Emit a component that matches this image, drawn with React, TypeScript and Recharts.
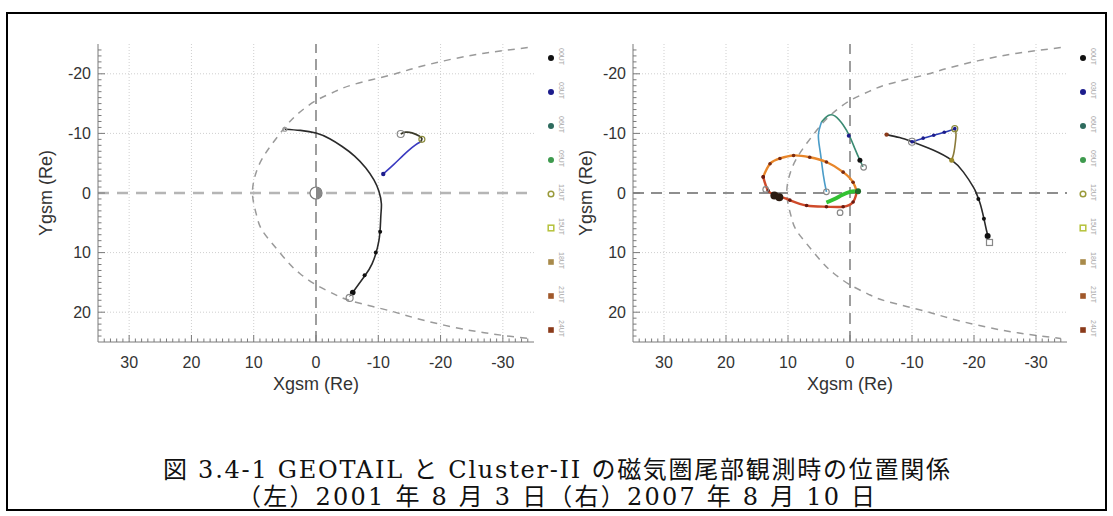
import React from "react";
import { ComposedChart, Scatter, XAxis, YAxis, ReferenceLine } from "recharts";

// axis ticks (Re)
const xMajor = [30, 20, 10, 0, -10, -20, -30];
const yMajor = [-20, -10, 0, 10, 20];
const xGrid = [-30, -20, -10, 10, 20, 30];
const yGrid = [-20, -10, 10, 20];
const xMinor = Array.from({ length: 69 }, (_, i) => i - 34);
const yMinor = Array.from({ length: 49 }, (_, i) => i - 24);

// model boundary (dashed), same in both panels
const bowX = [-34, -28, -22, -16, -12, -6, -3, 0, 3, 5, 7, 8.5, 9.6, 10.2, 9.6, 8.8, 7, 4.6, 2.6, 0, -3, -6, -12, -16, -22, -28, -34];
const bowY = [-24.4, -23.6, -22.5, -21.0, -19.8, -18.2, -17.0, -15.5, -13.2, -11, -8.3, -6, -3.5, 0, 3.5, 6, 8.5, 11.5, 13.5, 15.4, 17.0, 18.2, 19.8, 21.0, 22.5, 23.6, 24.4];

// left panel: 2001-08-03
const arcX = [5.0, 2.5, 0.0, -2.2, -4.2, -6.2, -8.0, -9.3, -10.1, -10.5, -10.4, -10.1, -9.0, -7.7, -5.9, -5.5];
const arcY = [-10.7, -10.5, -10.05, -9.1, -7.8, -6.2, -4.2, -2.2, -0.3, 1.8, 4.0, 8.0, 11.9, 14.1, 16.7, 17.3];
const arcDotX = [-10.3, -9.6, -7.8];
const arcDotY = [6.5, 10, 13.8];
const blueX = [-10.8, -12.5, -14.0, -15.4, -16.3, -16.8];
const blueY = [-3.2, -4.8, -6.3, -7.6, -8.3, -8.6];
const hookX = [-16.8, -17.0, -16.5, -15.4, -14.4, -13.6];
const hookY = [-8.6, -9.1, -9.6, -10.1, -10.2, -9.9];

// right panel: 2007-08-10
const loopUpX = [3.8, 4.3, 4.8, 5.1, 4.6];
const loopUpY = [-0.2, -3.0, -6.9, -9.7, -11.9];
const loopDownX = [4.6, 3.5, 2.4, 1.1, 0.0, -0.8, -1.6, -2.1];
const loopDownY = [-11.9, -13.0, -12.9, -11.4, -9.4, -7.4, -5.5, -4.4];
const ovalTopX = [14.0, 12.9, 11.3, 9.1, 6.5, 3.8, 1.1, -0.5, -1.1];
const ovalTopY = [-2.7, -4.9, -5.8, -6.3, -6.0, -5.2, -3.5, -1.8, -0.2];
const ovalBotX = [-1.1, -0.5, 1.1, 3.8, 7.0, 9.7, 11.8, 13.2, 14.0];
const ovalBotY = [-0.2, 1.5, 2.3, 2.3, 2.1, 1.2, 0.4, -0.4, -2.7];
const greenX = [3.8, 2.5, 1.2, 0.0, -0.8];
const greenY = [1.6, 1.0, 0.3, -0.2, -0.3];
const gtX = [-5.9, -8.0, -10.0, -13.4, -16.4, -18.3, -19.9, -20.4, -21.0, -21.6, -22.0, -22.3];
const gtY = [-9.8, -9.3, -8.6, -7.2, -5.5, -3.5, -1.0, 0.1, 1.8, 4.3, 6.2, 7.4];
const triBlueX = [-10.0, -11.8, -13.5, -15.2, -16.9];
const triBlueY = [-8.6, -9.2, -9.7, -10.2, -10.8];
const triOliveX = [-16.9, -17.1, -16.9, -16.7, -16.4];
const triOliveY = [-10.8, -9.8, -7.7, -6.5, -5.5];

// legend (time colour code)
const legendLabels = ["00UT", "03UT", "06UT", "09UT", "12UT", "15UT", "18UT", "21UT", "24UT"];
const legendColors = ["#111111", "#1c1c8c", "#2e6b5e", "#3e9a4e", "#9a9a3a", "#b5c23a", "#a88a4a", "#a0582a", "#8a3a1a"];
const legendShapes = ["dot", "dot", "dot", "dot", "ring", "box", "sq", "sq", "sq"];

const FRAME = "#7a7a7a";
const TXT = "#333";
const AXFONT = "'Liberation Sans', Arial, sans-serif";
const CAPFONT = "'DejaVu Serif', 'Noto Sans CJK JP', serif";

type Pt = { x: number; y: number };
const pts = (xs: number[], ys: number[]): Pt[] => xs.map((x, i) => ({ x, y: ys[i] }));

type Trace = { data: Pt[]; color: string; width?: number; dash?: string };
type Mark = { data: Pt[]; color: string; r: number; open?: boolean; square?: boolean };

const noDot = () => <g />;

const markShape = (m: Mark) => (p: any) => {
  if (m.square) {
    return <rect x={p.cx - m.r} y={p.cy - m.r} width={m.r * 2} height={m.r * 2} fill="none" stroke={m.color} strokeWidth={1.2} />;
  }
  return (
    <circle cx={p.cx} cy={p.cy} r={m.r} fill={m.open ? "none" : m.color} stroke={m.open ? m.color : "none"} strokeWidth={1.2} />
  );
};

const earth = (p: any) => (
  <g>
    <circle cx={p.cx} cy={p.cy} r={6} fill="#fff" stroke="#777" strokeWidth={1.2} />
    <path d={`M ${p.cx} ${p.cy - 6} A 6 6 0 0 1 ${p.cx} ${p.cy + 6} Z`} fill="#888" />
  </g>
);

function XTick(p: any) {
  const v = p.payload.value as number;
  const major = v % 10 === 0;
  const dir = p.side === "bottom" ? -1 : 1;
  return (
    <g>
      <line x1={p.x} x2={p.x} y1={p.y} y2={p.y + dir * (major ? 7 : 3.5)} stroke={FRAME} />
      {p.side === "bottom" && major && xMajor.includes(v) ? (
        <text x={p.x} y={p.y + 20} textAnchor="middle" dominantBaseline="central" fontSize={16} fill={TXT} fontFamily={AXFONT}>
          {v}
        </text>
      ) : null}
    </g>
  );
}

function YTick(p: any) {
  const v = p.payload.value as number;
  const major = v % 10 === 0;
  const dir = p.side === "left" ? 1 : -1;
  return (
    <g>
      <line x1={p.x} x2={p.x + dir * (major ? 7 : 3.5)} y1={p.y} y2={p.y} stroke={FRAME} />
      {p.side === "left" && major && yMajor.includes(v) ? (
        <text x={p.x - 7} y={p.y} textAnchor="end" dominantBaseline="central" fontSize={16} fill={TXT} fontFamily={AXFONT}>
          {v}
        </text>
      ) : null}
    </g>
  );
}

type PanelProps = {
  width: number;
  margin: { top: number; right: number; bottom: number; left: number };
  yAxisWidth: number;
  traces: Trace[];
  marks: Mark[];
  zeroH: { stroke: string; width: number; dash: string };
  zeroV: { stroke: string; width: number; dash: string };
  showEarth?: boolean;
};

const Panel = ({ width, margin, yAxisWidth, traces, marks, zeroH, zeroV, showEarth }: PanelProps) => (
  <ComposedChart width={width} height={400} margin={margin}>
    <XAxis
      xAxisId="b"
      type="number"
      dataKey="x"
      domain={[-35, 35]}
      reversed
      allowDataOverflow
      ticks={xMinor}
      interval={0}
      tickLine={false}
      tickSize={0}
      tickMargin={0}
      height={58}
      axisLine={{ stroke: FRAME }}
      tick={(p: any) => <XTick {...p} side="bottom" />}
    />
    <XAxis
      xAxisId="t"
      orientation="top"
      type="number"
      dataKey="x"
      domain={[-35, 35]}
      reversed
      allowDataOverflow
      ticks={xMinor}
      interval={0}
      tickLine={false}
      tickSize={0}
      tickMargin={0}
      height={0}
      axisLine={{ stroke: FRAME }}
      tick={(p: any) => <XTick {...p} side="top" />}
    />
    <YAxis
      yAxisId="l"
      type="number"
      dataKey="y"
      domain={[-25, 25]}
      reversed
      allowDataOverflow
      ticks={yMinor}
      interval={0}
      tickLine={false}
      tickSize={0}
      tickMargin={0}
      width={yAxisWidth}
      axisLine={{ stroke: FRAME }}
      tick={(p: any) => <YTick {...p} side="left" />}
    />
    <YAxis
      yAxisId="r"
      orientation="right"
      type="number"
      dataKey="y"
      domain={[-25, 25]}
      reversed
      allowDataOverflow
      ticks={yMinor}
      interval={0}
      tickLine={false}
      tickSize={0}
      tickMargin={0}
      width={0}
      axisLine={{ stroke: FRAME }}
      tick={(p: any) => <YTick {...p} side="right" />}
    />

    {xGrid.map((v) => (
      <ReferenceLine key={`gx${v}`} xAxisId="b" yAxisId="l" x={v} stroke="#cfcfcf" strokeDasharray="1 2" />
    ))}
    {yGrid.map((v) => (
      <ReferenceLine key={`gy${v}`} xAxisId="b" yAxisId="l" y={v} stroke="#cfcfcf" strokeDasharray="1 2" />
    ))}
    <ReferenceLine xAxisId="b" yAxisId="l" y={0} stroke={zeroH.stroke} strokeWidth={zeroH.width} strokeDasharray={zeroH.dash} />
    <ReferenceLine xAxisId="b" yAxisId="l" x={0} stroke={zeroV.stroke} strokeWidth={zeroV.width} strokeDasharray={zeroV.dash} />

    <Scatter
      xAxisId="b"
      yAxisId="l"
      data={pts(bowX, bowY)}
      line={{ stroke: "#9a9a9a", strokeWidth: 1.5, strokeDasharray: "7 6" }}
      lineJointType="natural"
      shape={noDot}
      isAnimationActive={false}
    />
    {traces.map((t, i) => (
      <Scatter
        key={`t${i}`}
        xAxisId="b"
        yAxisId="l"
        data={t.data}
        line={{ stroke: t.color, strokeWidth: t.width ?? 1.6, strokeDasharray: t.dash }}
        lineJointType="natural"
        shape={noDot}
        isAnimationActive={false}
      />
    ))}
    {marks.map((m, i) => (
      <Scatter key={`m${i}`} xAxisId="b" yAxisId="l" data={m.data} shape={markShape(m)} isAnimationActive={false} />
    ))}
    {showEarth ? (
      <Scatter xAxisId="b" yAxisId="l" data={[{ x: 0, y: 0 }]} shape={earth} isAnimationActive={false} />
    ) : null}
  </ComposedChart>
);

const leftTraces: Trace[] = [
  { data: pts(arcX, arcY), color: "#2a2a2a" },
  { data: pts(blueX, blueY), color: "#3a3ac0" },
  { data: pts(hookX, hookY), color: "#3a3a2a", width: 1.8 },
];
const leftMarks: Mark[] = [
  { data: pts(arcDotX, arcDotY), color: "#111", r: 2 },
  { data: pts([-5.9], [16.7]), color: "#111", r: 2.8 },
  { data: pts([-5.4, -13.6], [17.6, -9.9]), color: "#888", r: 3.5, open: true },
  { data: pts([5.0], [-10.7]), color: "#999", r: 2, open: true },
  { data: pts([-10.8], [-3.2]), color: "#1c1c8c", r: 2.2 },
  { data: pts([-17.0], [-9.0]), color: "#8a8a3a", r: 3, open: true },
];

const rightTraces: Trace[] = [
  { data: pts(loopUpX, loopUpY), color: "#4a9cc8" },
  { data: pts(loopDownX, loopDownY), color: "#3a8a72" },
  { data: pts(ovalTopX, ovalTopY), color: "#e8862a", width: 2.4 },
  { data: pts(ovalBotX, ovalBotY), color: "#cf4a2a", width: 2.4 },
  { data: pts(greenX, greenY), color: "#33c233", width: 4 },
  { data: pts(gtX, gtY), color: "#2a2a2a" },
  { data: pts(triBlueX, triBlueY), color: "#2a3ab0" },
  { data: pts(triOliveX, triOliveY), color: "#8a7a3a" },
];
const rightMarks: Mark[] = [
  { data: pts(ovalTopX, ovalTopY), color: "#7a2a10", r: 1.8 },
  { data: pts(ovalBotX, ovalBotY), color: "#6a1a10", r: 1.8 },
  { data: pts([12.2, 11.4], [0.4, 0.7]), color: "#2a1a10", r: 4 },
  { data: pts([13.6, 3.8, -2.2, 1.6], [-0.6, -0.2, -4.3, 3.3]), color: "#888", r: 2.8, open: true },
  { data: pts([-1.3], [-0.3]), color: "#1f6a2a", r: 3 },
  { data: pts([-1.6], [-5.5]), color: "#111", r: 2.5 },
  { data: pts([0.2], [-9.6]), color: "#1c1c8c", r: 2 },
  { data: pts([-5.9], [-9.8]), color: "#8a3a1a", r: 2.2 },
  { data: pts([-10.0], [-8.6]), color: "#888", r: 3.5, open: true },
  { data: pts([-16.4], [-5.5]), color: "#9a8a2a", r: 2.5 },
  { data: pts([-16.9], [-10.8]), color: "#8a8a3a", r: 3, open: true },
  { data: pts(triBlueX, triBlueY), color: "#1c1c8c", r: 1.8 },
  { data: pts([-20.7, -21.6], [1.0, 4.3]), color: "#111", r: 2 },
  { data: pts([-22.2], [7.2]), color: "#111", r: 3 },
  { data: pts([-22.5], [8.3]), color: "#888", r: 3, square: true },
];

const LegendColumn = ({ x }: { x: number }) => (
  <g>
    {legendLabels.map((lab, i) => {
      const y = 58 + i * 34;
      const c = legendColors[i];
      const s = legendShapes[i];
      return (
        <g key={lab}>
          {s === "dot" && <circle cx={x} cy={y} r={3} fill={c} />}
          {s === "ring" && <circle cx={x} cy={y} r={2.8} fill="none" stroke={c} strokeWidth={1.5} />}
          {s === "box" && <rect x={x - 2.8} y={y - 2.8} width={5.6} height={5.6} fill="none" stroke={c} strokeWidth={1.5} />}
          {s === "sq" && <rect x={x - 2.8} y={y - 2.8} width={5.6} height={5.6} fill={c} />}
          <text
            x={x + 8}
            y={y - 10}
            transform={`rotate(90 ${x + 8} ${y - 10})`}
            fontSize={7}
            fill="#a8a8a8"
            fontFamily={AXFONT}
          >
            {lab}
          </text>
        </g>
      );
    })}
  </g>
);

const zeroLeftH = { stroke: "#b5b5b5", width: 2.5, dash: "11 8" };
const zeroLeftV = { stroke: "#6a6a6a", width: 1.3, dash: "11 6" };
const zeroRight = { stroke: "#6a6a6a", width: 1.3, dash: "11 7" };

export default function App() {
  return (
    <div style={{ position: "relative", width: 1113, height: 516, background: "#fff", overflow: "hidden" }}>
      <style>{"body{margin:0}"}</style>
      <div style={{ position: "absolute", left: 0, top: 0 }}>
        <Panel
          width={545}
          margin={{ top: 44, right: 11, bottom: 0, left: 38 }}
          yAxisWidth={60}
          traces={leftTraces}
          marks={leftMarks}
          zeroH={zeroLeftH}
          zeroV={zeroLeftV}
          showEarth
        />
      </div>
      <div style={{ position: "absolute", left: 575, top: 0 }}>
        <Panel
          width={520}
          margin={{ top: 44, right: 28, bottom: 0, left: 0 }}
          yAxisWidth={58}
          traces={rightTraces}
          marks={rightMarks}
          zeroH={zeroRight}
          zeroV={zeroRight}
        />
      </div>
      <svg width={1113} height={516} style={{ position: "absolute", left: 0, top: 0, pointerEvents: "none" }}>
        <rect x={7} y={13} width={1099} height={497} fill="none" stroke="#000" strokeWidth={2} />
        <text x={46} y={193} transform="rotate(-90 46 193)" textAnchor="middle" dominantBaseline="central" fontSize={18} fill={TXT} fontFamily={AXFONT}>
          Ygsm (Re)
        </text>
        <text x={316} y={384} textAnchor="middle" dominantBaseline="central" fontSize={18} fill={TXT} fontFamily={AXFONT}>
          Xgsm (Re)
        </text>
        <text x={586} y={193} transform="rotate(-90 586 193)" textAnchor="middle" dominantBaseline="central" fontSize={18} fill={TXT} fontFamily={AXFONT}>
          Ygsm (Re)
        </text>
        <text x={850} y={384} textAnchor="middle" dominantBaseline="central" fontSize={18} fill={TXT} fontFamily={AXFONT}>
          Xgsm (Re)
        </text>
        <LegendColumn x={551} />
        <LegendColumn x={1083} />
        <text
          x={163}
          y={470}
          dominantBaseline="central"
          fontSize={24}
          fill="#111"
          fontFamily={CAPFONT}
          textLength={787}
          lengthAdjust="spacing"
        >
          図 3.4-1 GEOTAIL と Cluster-II の磁気圏尾部観測時の位置関係
        </text>
        <text
          x={237}
          y={497}
          dominantBaseline="central"
          fontSize={24}
          fill="#111"
          fontFamily={CAPFONT}
          textLength={638}
          lengthAdjust="spacing"
        >
          （左）2001 年 8 月 3 日（右）2007 年 8 月 10 日
        </text>
      </svg>
    </div>
  );
}
